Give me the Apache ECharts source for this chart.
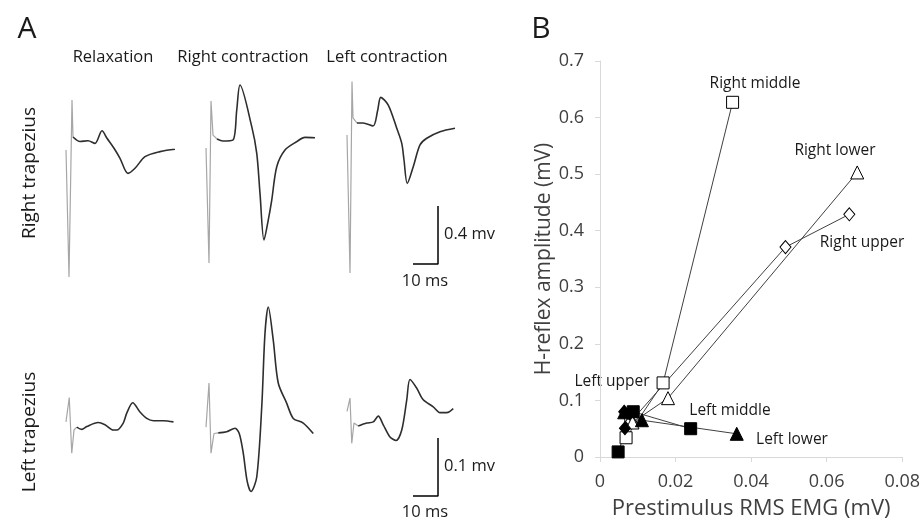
<!DOCTYPE html>
<html>
<head>
<meta charset="utf-8">
<script src="https://cdn.jsdelivr.net/npm/echarts@6/dist/echarts.min.js"></script>
<style>
  html, body { margin: 0; padding: 0; background: #fff; }
  #main { width: 923px; height: 529px; }
</style>
</head>
<body>
<div id="main"></div>
<script>
// ---- panel A traces: [time (ms), voltage (mV)] ----
// right trapezius
const rtRelaxArtifact = [[0, -0.069], [1.2, -0.945], [2.4, 0.276], [2.8, 0.021]]
const rtRelaxResponse = [[2.8, 0.021], [5.6, -0.01], [8.8, -0.005], [11.6, -0.023], [14.4, 0.064], [16.4, 0.012],
  [19.2, -0.057], [21.6, -0.126], [24.8, -0.23], [27.6, -0.195], [31.6, -0.115], [37.6, -0.08], [43.6, -0.064]]
const rtRightArtifact = [[0, -0.055], [1.2, -0.848], [2.0, 0.269], [2.8, 0.034], [4.4, 0.007]]
const rtRightResponse = [[4.4, 0.007], [6.8, -0.007], [10.8, 0], [12.3, 0.207], [13.6, 0.379], [18.3, 0.092],
  [20.3, -0.092], [21.6, -0.368], [23.2, -0.69], [24.9, -0.552], [26.3, -0.414], [28.3, -0.184],
  [31.6, -0.069], [36.3, -0.011], [39.6, 0.018], [43.6, 0.016]]
const rtLeftArtifact = [[0, 0.034], [1.2, -0.917], [2.0, 0.407], [2.4, 0.152], [4.0, 0.117]]
const rtLeftResponse = [[4.0, 0.117], [6.4, 0.117], [10.4, 0.097], [12.3, 0.207], [13.5, 0.294], [16.5, 0.241],
  [19.9, 0.081], [21.9, -0.023], [22.8, -0.138], [24.1, -0.299], [26.5, -0.184], [29.2, -0.034],
  [31.9, 0.012], [37.2, 0.057], [43.2, 0.081]]
// left trapezius
const ltRelaxArtifact = [[0, 0.014], [1.3, 0.056], [2.3, -0.04], [3.2, 0], [4.3, 0.005]]
const ltRelaxResponse = [[4.3, 0.005], [6.3, 0.001], [8.3, 0.006], [12.9, 0.013], [15.6, 0.009], [18.9, 0],
  [20.3, 0], [22.9, 0.012], [24.3, 0.029], [26.7, 0.047], [29.6, 0.031], [32.3, 0.02], [35.0, 0.016],
  [39.0, 0.016], [43.0, 0.014]]
const ltRightArtifact = [[0, 0.005], [1.2, 0.081], [2.0, -0.04], [3.2, -0.006], [4.9, -0.005]]
const ltRightResponse = [[4.9, -0.005], [8.3, -0.003], [11.6, 0.003], [13.3, -0.006], [14.9, -0.04], [16.5, -0.089],
  [18.0, -0.106], [20.3, -0.081], [22.3, 0.04], [23.6, 0.167], [24.9, 0.212], [26.9, 0.155], [28.9, 0.081],
  [32.3, 0.046], [34.9, 0.02], [38.9, 0.012], [42.9, -0.006]]
const ltLeftArtifact = [[0, 0.032], [1.2, 0.055], [1.9, -0.023], [2.8, 0.012], [4.5, 0.007]]
const ltLeftResponse = [[4.5, 0.007], [7.9, 0.012], [10.5, 0.014], [12.5, 0.024], [14.5, 0.009], [17.2, -0.012],
  [19.6, -0.018], [21.9, 0], [23.9, 0.052], [25.2, 0.087], [27.9, 0.072], [30.5, 0.052], [34.5, 0.04],
  [37.2, 0.03], [39.9, 0.03], [42.5, 0.037]]
// scale bars (10 ms / 0.4 mV and 10 ms / 0.1 mV)
const topScaleBar = [[26.4, -0.855], [36.4, -0.855], [36.4, -0.455]]
const bottomScaleBar = [[26.4, -0.114], [36.4, -0.114], [36.4, -0.014]]

const conditionNames = ['Relaxation', 'Right contraction', 'Left contraction']

// ---- panel B: [prestimulus RMS EMG (mV), H-reflex amplitude (mV)] ----
const rightUpper = [[0.0082, 0.063], [0.0491, 0.371], [0.066, 0.429]]
const rightMiddle = [[0.0069, 0.034], [0.0167, 0.131], [0.0351, 0.627]]
const rightLower = [[0.0086, 0.061], [0.018, 0.104], [0.0681, 0.503]]
const leftUpper = [[0.0066, 0.051], [0.0064, 0.08], [0.0078, 0.077]]
const leftMiddle = [[0.0048, 0.009], [0.0088, 0.08], [0.024, 0.05]]
const leftLower = [[0.0064, 0.079], [0.0111, 0.065], [0.0362, 0.041]]

const FONT = '"Open Sans", sans-serif'
const chart = echarts.init(document.getElementById('main'))

// trace grids: 3 columns x 2 rows
const colLeft = [66, 206, 347]
const grids = []
const xAxes = []
const yAxes = []
for (let r = 0; r < 2; r++) {
  for (let c = 0; c < 3; c++) {
    const i = r * 3 + c
    grids.push(r === 0
      ? { left: colLeft[c], top: 82, width: 125, height: 203 }
      : { left: colLeft[c], top: 285, width: 125, height: 217.5 })
    xAxes.push({ gridIndex: i, type: 'value', min: 0, max: 50, show: false })
    yAxes.push(r === 0
      ? { gridIndex: i, type: 'value', min: -1.0, max: 0.4, show: false }
      : { gridIndex: i, type: 'value', min: -0.125, max: 0.25, show: false })
  }
}
// panel B grid
grids.push({ left: 600, right: 20, top: 61, bottom: 72 })
xAxes.push({
  gridIndex: 6, type: 'value', min: 0, max: 0.08, interval: 0.02,
  name: 'Prestimulus RMS EMG (mV)', nameLocation: 'middle', nameGap: 41,
  nameTextStyle: { fontFamily: FONT, fontSize: 22, color: '#404040' },
  axisLine: { lineStyle: { color: '#d9d9d9' } },
  axisTick: { show: true, length: 5, lineStyle: { color: '#d9d9d9' } },
  axisLabel: { fontFamily: FONT, fontSize: 18, color: '#404040', margin: 16 },
  splitLine: { show: false }
})
yAxes.push({
  gridIndex: 6, type: 'value', min: 0, max: 0.7, interval: 0.1,
  name: 'H-reflex amplitude (mV)', nameLocation: 'middle', nameGap: 42,
  nameTextStyle: { fontFamily: FONT, fontSize: 21, color: '#404040' },
  axisLine: { show: true, lineStyle: { color: '#d9d9d9' } },
  axisTick: { show: true, length: 5, lineStyle: { color: '#d9d9d9' } },
  axisLabel: { fontFamily: FONT, fontSize: 18, color: '#404040', margin: 16 },
  splitLine: { show: false }
})

const traceSeries = []
const traces = [
  [rtRelaxArtifact, rtRelaxResponse], [rtRightArtifact, rtRightResponse], [rtLeftArtifact, rtLeftResponse],
  [ltRelaxArtifact, ltRelaxResponse], [ltRightArtifact, ltRightResponse], [ltLeftArtifact, ltLeftResponse]
]
traces.forEach((t, i) => {
  traceSeries.push({
    type: 'line', xAxisIndex: i, yAxisIndex: i, data: t[0], symbol: 'none',
    lineStyle: { color: '#a6a6a6', width: 1.2 }, silent: true
  })
  traceSeries.push({
    type: 'line', xAxisIndex: i, yAxisIndex: i, data: t[1], symbol: 'none', smooth: 0.3,
    lineStyle: { color: '#2e2e2e', width: 1.6 }, silent: true
  })
})
traceSeries.push({
  type: 'line', xAxisIndex: 2, yAxisIndex: 2, data: topScaleBar, symbol: 'none',
  lineStyle: { color: '#000', width: 1.5 }
})
traceSeries.push({
  type: 'line', xAxisIndex: 5, yAxisIndex: 5, data: bottomScaleBar, symbol: 'none',
  lineStyle: { color: '#000', width: 1.5 }
})

function scatterLine (name, data, symbol, size, filled) {
  return {
    name: name, type: 'line', xAxisIndex: 6, yAxisIndex: 6, data: data,
    symbol: symbol, symbolSize: size, showAllSymbol: true,
    lineStyle: { color: '#404040', width: 1 },
    itemStyle: { color: filled ? '#000' : '#fff', borderColor: '#000', borderWidth: 1 }
  }
}
const scatterSeries = [
  scatterLine('Right upper', rightUpper, 'diamond', [11, 13], false),
  scatterLine('Right lower', rightLower, 'triangle', 13, false),
  scatterLine('Right middle', rightMiddle, 'rect', 12, false),
  scatterLine('Left lower', leftLower, 'triangle', 13, true),
  scatterLine('Left upper', leftUpper, 'diamond', [11, 13], true),
  scatterLine('Left middle', leftMiddle, 'rect', 12, true)
]

function txt (text, x, y, size, align, rot) {
  return {
    type: 'text', x: x, y: y, rotation: rot || 0,
    style: { text: text, x: 0, y: 0, font: size + 'px ' + FONT, fill: '#1a1a1a',
      align: align || 'center', verticalAlign: 'middle' }
  }
}
const labels = [
  txt('A', 27, 29, 30),
  txt('B', 541, 29, 30),
  txt(conditionNames[0], 113, 57, 16.5),
  txt(conditionNames[1], 243, 57, 16.5),
  txt(conditionNames[2], 387, 57, 16.5),
  txt('Right trapezius', 30, 173, 19, 'center', Math.PI / 2),
  txt('Left trapezius', 30, 432, 19, 'center', Math.PI / 2),
  txt('0.4 mv', 444, 234, 16.5, 'left'),
  txt('10 ms', 425, 281, 16.5),
  txt('0.1 mv', 444, 466, 16.5, 'left'),
  txt('10 ms', 425, 512, 16.5),
  txt('Right middle', 755, 84, 15.5),
  txt('Right lower', 835, 151, 15.5),
  txt('Right upper', 862, 243, 15.5),
  txt('Left upper', 612, 382, 15.5),
  txt('Left middle', 730, 411, 15.5),
  txt('Left lower', 792, 440, 15.5)
]

chart.setOption({
  animation: false,
  backgroundColor: '#fff',
  textStyle: { fontFamily: FONT },
  grid: grids,
  xAxis: xAxes,
  yAxis: yAxes,
  series: traceSeries.concat(scatterSeries),
  graphic: labels
})
</script>
</body>
</html>
